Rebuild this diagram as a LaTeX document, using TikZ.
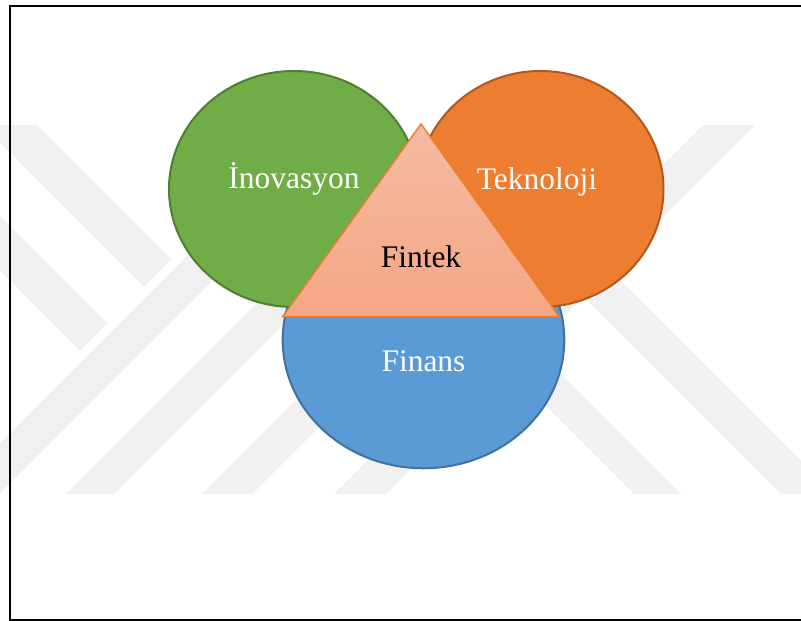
\documentclass[tikz,border=0pt]{standalone}
\usepackage{fontspec}
\setmainfont{Liberation Serif}
\definecolor{grnfill}{HTML}{70AD47}
\definecolor{grnline}{HTML}{507E32}
\definecolor{orgfill}{HTML}{ED7D31}
\definecolor{orgline}{HTML}{AE5A21}
\definecolor{bluefill}{HTML}{5B9BD5}
\definecolor{blueline}{HTML}{41719C}
\definecolor{trtop}{RGB}{244,187,163}
\definecolor{trbot}{RGB}{246,166,132}
\definecolor{wmark}{RGB}{240,240,240}
\begin{document}
\begin{tikzpicture}[x=0.75pt,y=-0.75pt,
  band/.style={fill=wmark,draw=none},
  disc/.style={line width=1.5pt},
  lbl/.style={anchor=base,inner sep=0pt,font=\fontsize{23.6}{28}\selectfont,text=white}]
\useasboundingbox (0,0) rectangle (801,621);
\clip (0,0) rectangle (801,621);
\fill[white] (0,0) rectangle (801,621);

% faint background emblem made of slanted bars
\begin{scope}
  \clip (0,125) rectangle (801,493);
  \fill[band] (-71,71) -- (-44,44) -- (171,259) -- (144,286) -- cycle;
  \fill[band] (-135,135) -- (-108,108) -- (107,323) -- (80,350) -- cycle;
  \fill[band] (-28.5,471.5) -- (-3.5,496.5) -- (346.5,146.5) -- (321.5,121.5) -- cycle;
  \fill[band] (30,530) -- (54,554) -- (429,179) -- (405,155) -- cycle;
  \fill[band] (98,598) -- (123,623) -- (498,248) -- (473,223) -- cycle;
  \fill[band] (164,664) -- (190,690) -- (790,90) -- (764,64) -- cycle;
  \fill[band] (589.5,302.5) -- (616,276) -- (920,580) -- (893.5,606.5) -- cycle;
  \fill[band] (516,376) -- (539.5,352.5) -- (843.5,656.5) -- (820,680) -- cycle;
\end{scope}

% page frame
\draw[line width=1.5pt] (9.5,5.7) rectangle (830,619.5);

% the three overlapping fields
\draw[disc,draw=blueline,fill=bluefill] (423.5,340) ellipse [x radius=105.6pt,y radius=96.2pt];
\draw[disc,draw=grnline,fill=grnfill] (294,189) ellipse [x radius=93.75pt,y radius=88.5pt];
\draw[disc,draw=orgline,fill=orgfill] (540.5,189) ellipse [x radius=92.25pt,y radius=88.5pt];

% central triangle
\coordinate (apex) at (421,124);
\coordinate (bl) at (282.7,316.7);
\coordinate (br) at (559.3,316.7);
\draw[draw=orgfill,line width=1.1pt,line join=miter,top color=trtop,bottom color=trbot]
  (apex) -- (bl) -- (br) -- cycle;

% labels
\node[lbl] (tinov) at (294,188) {İnovasyon};
\node[lbl] (ttek) at (537,189) {Teknoloji};
\node[lbl,text=black] (tfin) at (421,267) {Fintek};
\node[lbl] (tfinans) at (423.5,371) {Finans};
\end{tikzpicture}
\end{document}
